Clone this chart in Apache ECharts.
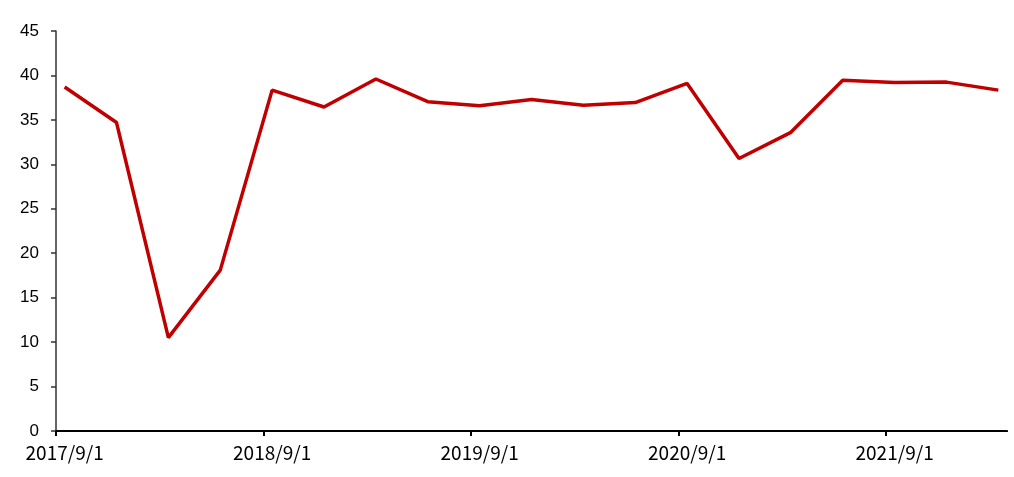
<!DOCTYPE html>
<html>
<head>
<meta charset="utf-8">
<script src="https://cdn.jsdelivr.net/npm/echarts@6/dist/echarts.min.js"></script>
<style>
html,body{margin:0;padding:0;background:#fff;}
#chart{width:1014px;height:477px;}
</style>
</head>
<body>
<div id="chart"></div>
<script>
// Quarterly observations (year, month) and values
const obsDates = [
  [2017,9],[2017,12],[2018,3],[2018,6],[2018,9],[2018,12],[2019,3],[2019,6],
  [2019,9],[2019,12],[2020,3],[2020,6],[2020,9],[2020,12],[2021,3],[2021,6],
  [2021,9],[2021,12],[2022,3]
];
const values = [
  38.7, 34.7, 10.5, 18.1, 38.35, 36.45, 39.6, 37.05,
  36.6, 37.3, 36.65, 36.95, 39.1, 30.65, 33.6, 39.45,
  39.2, 39.25, 38.35
];
const yTicks = { min: 0, max: 45, interval: 5 };

// Monthly category axis (Excel-style date axis with month base unit)
const months = [];
{
  let y = obsDates[0][0], m = obsDates[0][1];
  const [ey, em] = obsDates[obsDates.length - 1];
  while (y < ey || (y === ey && m <= em)) {
    months.push(y + '/' + m + '/1');
    m++; if (m > 12) { m = 1; y++; }
  }
}
const monthValues = months.map(() => null);
obsDates.forEach((d, i) => {
  const idx = months.indexOf(d[0] + '/' + d[1] + '/1');
  monthValues[idx] = values[i];
});

const xFont = '"Noto Sans CJK SC", "Noto Sans", sans-serif';
const yFont = '"Liberation Sans", Arial, sans-serif';
const chart = echarts.init(document.getElementById('chart'));
chart.setOption({
  animation: false,
  backgroundColor: '#ffffff',
  grid: { left: 56, right: 7, top: 31, bottom: 46, containLabel: false },
  xAxis: {
    type: 'category',
    data: months,
    boundaryGap: true,
    axisLine: { lineStyle: { color: '#000', width: 2 } },
    axisTick: { show: true, interval: function (i) { return i % 12 === 0; }, alignWithLabel: false, length: 5, inside: false, lineStyle: { color: '#000', width: 2 } },
    axisLabel: { interval: 11, color: '#000', fontSize: 19, fontFamily: xFont, margin: 12 },
    splitLine: { show: false }
  },
  yAxis: {
    type: 'value',
    min: yTicks.min, max: yTicks.max, interval: yTicks.interval,
    axisLine: { show: true, lineStyle: { color: '#333', width: 1.5 } },
    axisTick: { show: true, length: 5, lineStyle: { color: '#333', width: 1.5 } },
    axisLabel: { color: '#000', fontSize: 17, fontFamily: yFont, margin: 17 },
    splitLine: { show: false }
  },
  graphic: [{
    type: 'rect', left: 1000, top: 432, z: 1000, zlevel: 1,
    shape: { width: 14, height: 9 },
    style: { fill: '#ffffff' }
  }],
  series: [{
    type: 'line',
    data: monthValues,
    connectNulls: true,
    showSymbol: false,
    symbol: 'none',
    lineStyle: { color: '#C00000', width: 3.5 },
    itemStyle: { color: '#C00000' }
  }]
});
</script>
</body>
</html>
